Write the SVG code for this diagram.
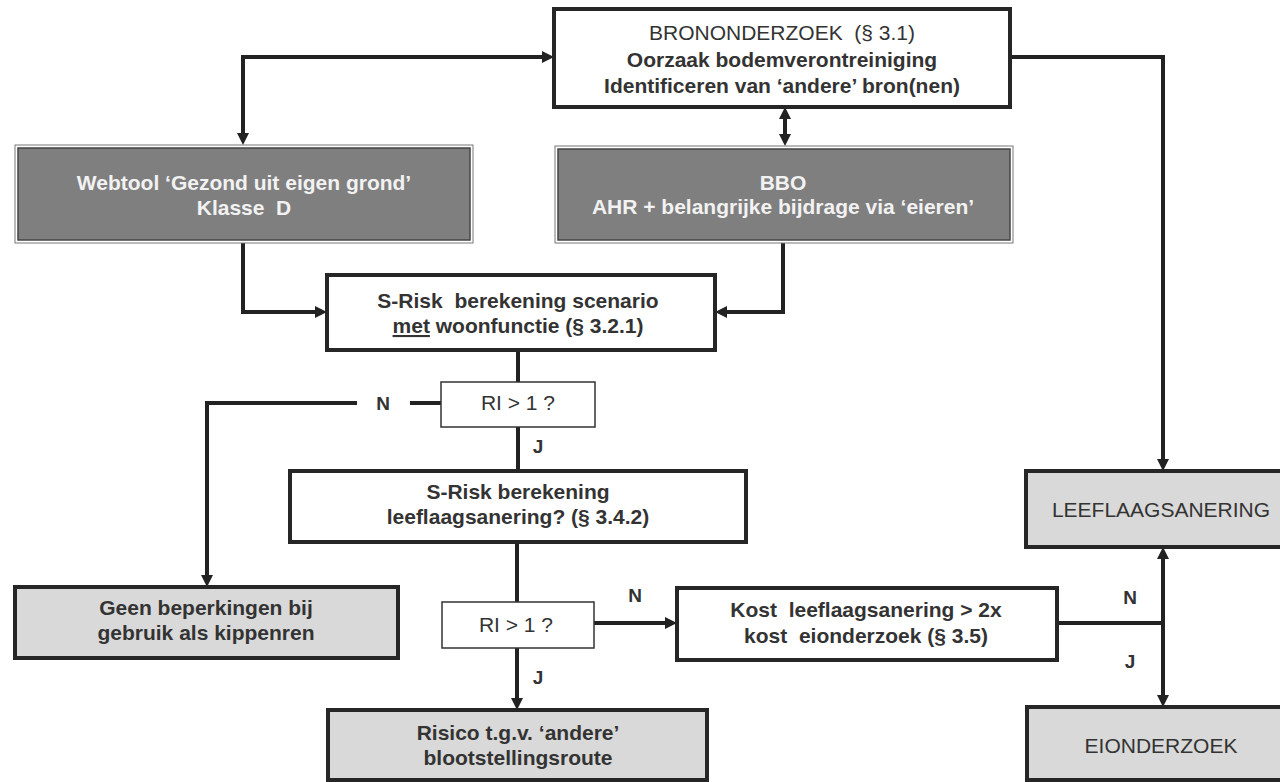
<svg xmlns="http://www.w3.org/2000/svg" width="1280" height="782" viewBox="0 0 1280 782">
<defs>
<marker id="ah" viewBox="0 0 10 10" refX="2.5" refY="5" markerWidth="12" markerHeight="12" markerUnits="userSpaceOnUse" orient="auto-start-reverse"><path d="M0,0 L10,5 L0,10 z" fill="#222"/></marker>
<style>
.t{font-family:"Liberation Sans",Arial,sans-serif;font-size:21px;fill:#333;text-anchor:middle;white-space:pre}
.b{font-weight:bold}
.w{fill:#f2f2f2;font-weight:bold}
.box{fill:#fff;stroke:#262626;stroke-width:4}
.lbox{fill:#d9d9d9;stroke:#262626;stroke-width:4}
.ri{fill:#fff;stroke:#333;stroke-width:1.5}
.dk{fill:#7f7f7f;stroke:#444;stroke-width:1.5}
.dko{fill:none;stroke:#777;stroke-width:1}
.c{fill:none;stroke:#222;stroke-width:4}
.lbl{font-family:"Liberation Sans",Arial,sans-serif;font-size:19px;font-weight:bold;fill:#333;text-anchor:middle}
</style>
</defs>
<rect width="1280" height="782" fill="#fff"/>

<g id="connectors">
<path class="c" d="M545,57 H243 V136" marker-start="url(#ah)" marker-end="url(#ah)"/>
<path class="c" d="M1010,57 H1163 V462" marker-end="url(#ah)"/>
<path class="c" d="M785,116 V137" marker-start="url(#ah)" marker-end="url(#ah)"/>
<path class="c" d="M243,243 V312 H318" marker-end="url(#ah)"/>
<path class="c" d="M783,243 V312 H724" marker-end="url(#ah)"/>
<path class="c" d="M518,350 V382"/>
<path class="c" d="M441,403 H410"/>
<path class="c" d="M357,403 H207 V578" marker-end="url(#ah)"/>
<path class="c" d="M518,427 V471"/>
<path class="c" d="M517,542 V602"/>
<path class="c" d="M594,623 H668" marker-end="url(#ah)"/>
<path class="c" d="M517,648 V701" marker-end="url(#ah)"/>
<path class="c" d="M1057,623 H1163"/>
<path class="c" d="M1163,556 V698" marker-start="url(#ah)" marker-end="url(#ah)"/>
<text class="lbl" x="383" y="410">N</text>
<text class="lbl" x="538" y="453">J</text>
<text class="lbl" x="635" y="602">N</text>
<text class="lbl" x="538" y="684">J</text>
<text class="lbl" x="1130" y="604">N</text>
<text class="lbl" x="1130" y="668">J</text>
</g>

<g id="bronnonderzoek">
<rect class="box" x="554" y="9" width="456" height="98"/>
<text class="t" x="782" y="40" xml:space="preserve">BRONONDERZOEK  (§ 3.1)</text>
<text class="t b" x="782" y="67">Oorzaak bodemverontreiniging</text>
<text class="t b" x="782" y="93">Identificeren van ‘andere’ bron(nen)</text>
</g>

<g id="webtool">
<rect class="dko" x="15" y="145" width="458" height="98"/>
<rect class="dk" x="18" y="148" width="452" height="92"/>
<text class="t w" x="244" y="190">Webtool ‘Gezond uit eigen grond’</text>
<text class="t w" x="244" y="215" xml:space="preserve">Klasse  D</text>
</g>

<g id="bbo">
<rect class="dko" x="555" y="146" width="458" height="97"/>
<rect class="dk" x="558" y="149" width="452" height="91"/>
<text class="t w" x="783" y="190">BBO</text>
<text class="t w" x="783" y="214">AHR + belangrijke bijdrage via ‘eieren’</text>
</g>

<g id="srisk1">
<rect class="box" x="327" y="275" width="388" height="75"/>
<text class="t b" x="518" y="308" xml:space="preserve">S-Risk  berekening scenario</text>
<text class="t b" x="518" y="333"><tspan text-decoration="underline">met</tspan> woonfunctie (§ 3.2.1)</text>
</g>

<g id="ri1">
<rect class="ri" x="441" y="382" width="154" height="45"/>
<text class="t" x="518" y="410">RI &gt; 1 ?</text>
</g>

<g id="srisk2">
<rect class="box" x="290" y="471" width="456" height="71"/>
<text class="t b" x="518" y="499">S-Risk berekening</text>
<text class="t b" x="518" y="524">leeflaagsanering? (§ 3.4.2)</text>
</g>

<g id="geen">
<rect class="lbox" x="15" y="587" width="383" height="71"/>
<text class="t b" x="206" y="615">Geen beperkingen bij</text>
<text class="t b" x="206" y="640">gebruik als kippenren</text>
</g>

<g id="ri2">
<rect class="ri" x="442" y="602" width="152" height="46"/>
<text class="t" x="516" y="632">RI &gt; 1 ?</text>
</g>

<g id="kost">
<rect class="box" x="677" y="588" width="380" height="72"/>
<text class="t b" x="866" y="617" xml:space="preserve">Kost  leeflaagsanering &gt; 2x</text>
<text class="t b" x="866" y="643" xml:space="preserve">kost  eionderzoek (§ 3.5)</text>
</g>

<g id="risico">
<rect class="lbox" x="328" y="710" width="379" height="70"/>
<text class="t b" x="518" y="740">Risico t.g.v. ‘andere’</text>
<text class="t b" x="518" y="765">blootstellingsroute</text>
</g>

<g id="leeflaagsanering">
<rect class="lbox" x="1026" y="471" width="274" height="76"/>
<text class="t" x="1161" y="517">LEEFLAAGSANERING</text>
</g>

<g id="eionderzoek">
<rect class="lbox" x="1027" y="707" width="273" height="73"/>
<text class="t" x="1161" y="753">EIONDERZOEK</text>
</g>
</svg>
